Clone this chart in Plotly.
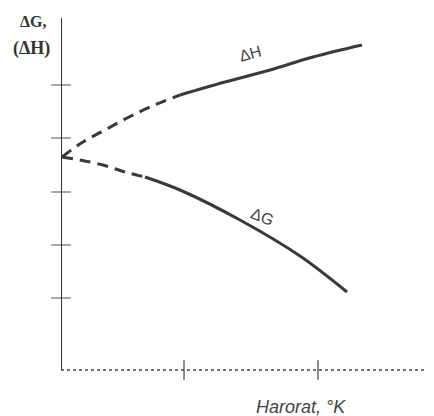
import plotly.graph_objects as go

# Values (arbitrary units: x = temperature, y = ΔG / ΔH)
dh_dash_x = [1, 22, 44, 66, 89, 119]
dh_dash_y = [213, 228, 240, 252, 263, 275]
dh_solid_x = [119, 164, 209, 252, 301]
dh_solid_y = [275, 288, 300, 313, 325]

dg_dash_x = [1, 19, 42, 64, 84]
dg_dash_y = [213, 210, 205, 198, 193]
dg_solid_x = [84, 119, 179, 239, 286]
dg_solid_y = [193, 180, 150, 114, 78]

y_ticks = [285, 232, 178, 125, 72]
x_ticks = [123, 257]

X_MAX = 373
Y_MAX = 352
ink = "#3a3a3a"

fig = go.Figure()

fig.add_trace(go.Scatter(x=dh_dash_x, y=dh_dash_y, mode="lines", line=dict(color=ink, width=3, dash="11px,7px", shape="spline"), hoverinfo="skip"))
fig.add_trace(go.Scatter(x=dh_solid_x, y=dh_solid_y, mode="lines", line=dict(color=ink, width=3, shape="spline"), hoverinfo="skip"))
fig.add_trace(go.Scatter(x=dg_dash_x, y=dg_dash_y, mode="lines", line=dict(color=ink, width=3, dash="11px,7px", shape="spline"), hoverinfo="skip"))
fig.add_trace(go.Scatter(x=dg_solid_x, y=dg_solid_y, mode="lines", line=dict(color=ink, width=3, shape="spline"), hoverinfo="skip"))

# crossing tick marks
fig.add_trace(go.Scatter(x=[0] * len(y_ticks), y=y_ticks, mode="markers", cliponaxis=False,
                         marker=dict(symbol="line-ew", size=14, line=dict(color="#888", width=1.5)), hoverinfo="skip"))
fig.add_trace(go.Scatter(x=x_ticks, y=[0] * len(x_ticks), mode="markers", cliponaxis=False,
                         marker=dict(symbol="line-ns", size=14, line=dict(color="#666", width=1.5)), hoverinfo="skip"))

# axes
fig.add_shape(type="line", x0=0, x1=0, y0=0, y1=Y_MAX, line=dict(color="#333", width=2))
fig.add_shape(type="line", xref="paper", yref="paper", x0=0, x1=1.05, y0=0, y1=0,
              line=dict(color="#444", width=1.5, dash="dot"))

fig.add_annotation(x=189, y=317, text="ΔH", showarrow=False, textangle=-15,
                   font=dict(family="Liberation Sans", size=16, color="#444"))
fig.add_annotation(x=201, y=154, text="ΔG", showarrow=False, textangle=22,
                   font=dict(family="Liberation Sans", size=16, color="#444"))
fig.add_annotation(xref="paper", yref="paper", x=0.643, y=-0.105, xanchor="center", yanchor="middle",
                   text="<i>Harorat, °K</i>", showarrow=False,
                   font=dict(family="Liberation Sans", size=18, color="#444"))
fig.add_annotation(xref="paper", yref="paper", x=-0.075, y=0.991, xanchor="center", yanchor="middle",
                   text="<b>ΔG,</b>", showarrow=False,
                   font=dict(family="Liberation Serif", size=16, color="#333"))
fig.add_annotation(xref="paper", yref="paper", x=-0.080, y=0.912, xanchor="center", yanchor="middle",
                   text="<b>(ΔH)</b>", showarrow=False,
                   font=dict(family="Liberation Serif", size=18, color="#333"))

fig.update_xaxes(range=[0, X_MAX], visible=False)
fig.update_yaxes(range=[0, Y_MAX], visible=False)
fig.update_layout(width=434, height=416, margin=dict(l=53, r=8, t=10, b=54),
                  plot_bgcolor="white", paper_bgcolor="white", showlegend=False)

fig.write_html("out.html")
